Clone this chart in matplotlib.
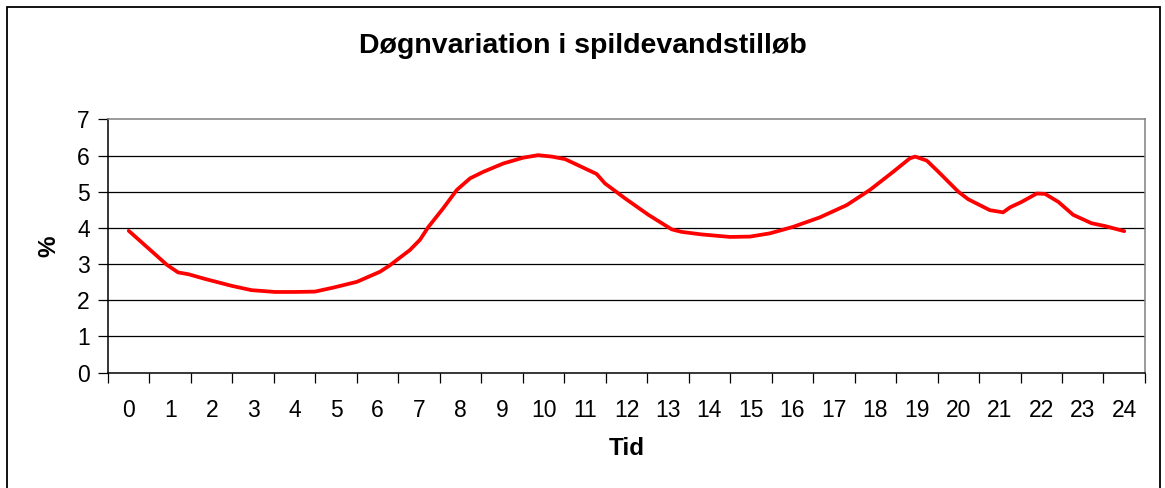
import numpy as np
import matplotlib.pyplot as plt
from matplotlib.patches import Rectangle

plt.rcParams['font.family'] = ['Liberation Sans', 'DejaVu Sans']

# aflæste punkter fra kurven (timer, procent)
hours = [0, 0.47, 0.92, 1.19, 1.44, 1.84, 2.48, 2.96, 3.53, 4.0,
         4.49, 4.93, 5.5, 6.06, 6.3, 6.78, 7.02, 7.22, 7.58, 7.91,
         8.23, 8.55, 9.03, 9.51, 9.87, 10.2, 10.52, 11.28, 11.48, 11.96,
         12.53, 13.09, 13.33, 13.81, 14.5, 14.98, 15.46, 16.02, 16.66, 17.31,
         17.87, 18.43, 18.83, 18.96, 19.24, 19.52, 20.0, 20.24, 20.76, 21.08,
         21.25, 21.53, 21.89, 22.09, 22.41, 22.77, 23.21, 23.54, 24.0]
percent = [3.92, 3.44, 2.98, 2.77, 2.72, 2.59, 2.40, 2.28, 2.23, 2.23,
           2.24, 2.35, 2.51, 2.79, 2.97, 3.39, 3.67, 4.02, 4.54, 5.05,
           5.37, 5.55, 5.78, 5.94, 6.01, 5.97, 5.90, 5.49, 5.23, 4.82,
           4.36, 3.96, 3.89, 3.82, 3.75, 3.76, 3.85, 4.03, 4.29, 4.63,
           5.05, 5.55, 5.92, 5.97, 5.86, 5.55, 5.0, 4.79, 4.49, 4.43,
           4.57, 4.72, 4.95, 4.94, 4.72, 4.36, 4.13, 4.05, 3.91]

hour_labels = [str(h) for h in range(25)]
y_ticks = list(range(8))

fig = plt.figure(figsize=(11.65, 4.88), dpi=100)
ax = fig.add_axes([0.0927, 0.2363, 0.8901, 0.5192])

# gitterlinjer
for y in y_ticks[1:-1]:
    ax.axhline(y, color='black', linewidth=0.9, zorder=1)

ax.plot(hours, percent, color='#ff0000', linewidth=2.7, zorder=3,
        solid_joinstyle='round', solid_capstyle='round')

ax.set_xlim(-0.5, 24.5)
ax.set_ylim(0, 7)
ax.set_yticks(y_ticks)
ax.set_xticks(np.arange(-0.5, 25, 1))
ax.set_xticklabels([])
ax.set_xticks(range(25), minor=True)
ax.set_xticklabels(hour_labels, minor=True)
ax.tick_params(axis='x', which='major', length=7, width=0.9, direction='out')
ax.tick_params(axis='x', which='minor', length=0, pad=19, labelsize=16.5)
ax.tick_params(axis='y', length=7, width=0.9, direction='out', pad=6, labelsize=16.5)

ax.spines['left'].set_color('black')
ax.spines['bottom'].set_color('black')
ax.spines['top'].set_color('#808080')
ax.spines['right'].set_color('#808080')
for s in ax.spines.values():
    s.set_linewidth(1.1)

ax.set_xlabel('Tid', fontsize=17.5, fontweight='bold', labelpad=11)
ax.set_ylabel('%', fontsize=17.5, fontweight='bold', labelpad=12)

fig.text(0.5, 0.905, 'Døgnvariation i spildevandstilløb', ha='center', va='center',
         fontsize=20.5, fontweight='bold')

# ramme om diagrammet
fig.patches.append(Rectangle((7 / 1165, -0.1), 1153 / 1165, (481 / 488) + 0.1,
                             transform=fig.transFigure, fill=False,
                             edgecolor='black', linewidth=1.3))

fig.savefig('out.png', dpi=100)
